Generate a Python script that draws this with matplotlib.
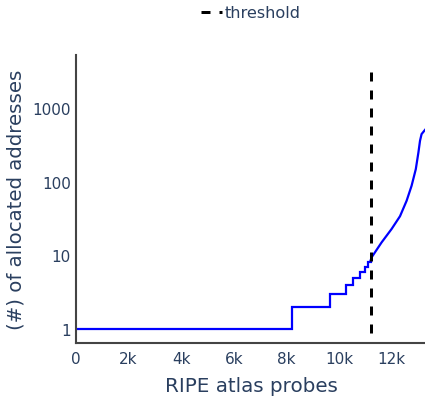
import matplotlib
matplotlib.use("Agg")
import matplotlib.pyplot as plt

# Data
# step part: number of allocated addresses per RIPE atlas probe rank
step_probes = [0, 8200, 9660, 10270, 10550, 10800, 10990, 11110, 11200]
step_addresses = [1, 2, 3, 4, 5, 6, 7, 8, 8]

# smooth tail of the curve
tail_probes = [11200, 11240, 11620, 12000, 12320, 12570, 12760, 12920, 13020, 13080, 13140, 13240, 13300]
tail_addresses = [8.5, 9.4, 15, 22.8, 34, 55, 88, 148, 250, 359, 443, 490, 520]

threshold = 11220
threshold_top = 3100

text_color = "#2a3f5f"
axis_color = "#444444"

W, H = 425, 402
fig = plt.figure(figsize=(W / 100, H / 100), dpi=100)
ax = fig.add_axes([76 / W, 57.7 / H, 1 - 76 / W, 288.3 / H])

ax.set_yscale("log")
ax.set_xlim(0, 13270)
ax.set_ylim(10 ** -0.194, 10 ** 3.72)

ax.plot(step_probes, step_addresses, drawstyle="steps-post", color="blue", lw=1.6,
        solid_joinstyle="miter")
ax.plot(tail_probes, tail_addresses, color="blue", lw=1.6)

# dashed threshold, drawn top-down so the pattern starts with a full dash
ylo = ax.get_ylim()[0]
ax.plot([threshold, threshold], [threshold_top, ylo], color="black", lw=2.16,
        dashes=(3, 3), label="threshold", clip_on=False)

# axes styling (plotly-like)
for side in ["top", "right"]:
    ax.spines[side].set_visible(False)
for side in ["left", "bottom"]:
    ax.spines[side].set_color(axis_color)
    ax.spines[side].set_linewidth(1.5)

ax.set_yticks([1, 10, 100, 1000])
ax.set_yticklabels(["1", "10", "100", "1000"])
ax.yaxis.set_minor_locator(matplotlib.ticker.NullLocator())
ax.set_xticks([0, 2000, 4000, 6000, 8000, 10000, 12000])
ax.set_xticklabels(["0", "2k", "4k", "6k", "8k", "10k", "12k"])
ax.tick_params(axis="both", length=0, labelsize=11, labelcolor=text_color)
ax.tick_params(axis="x", pad=5.8)
ax.tick_params(axis="y", pad=3.6)

fig.text(251 / W, 1 - 387 / H, "RIPE atlas probes", ha="center", va="center",
         fontsize=14.3, color=text_color)
fig.text(16 / W, 1 - 200 / H, "(#) of allocated addresses", ha="center", va="center",
         rotation=90, fontsize=14.2, color=text_color)

leg = fig.legend(loc="center", bbox_to_anchor=(251 / W, 1 - 14 / H), frameon=False,
                 handlelength=1.3, handletextpad=0.15, borderpad=0, fontsize=11.6)
for t in leg.get_texts():
    t.set_color(text_color)

fig.savefig("out.png", dpi=100)
